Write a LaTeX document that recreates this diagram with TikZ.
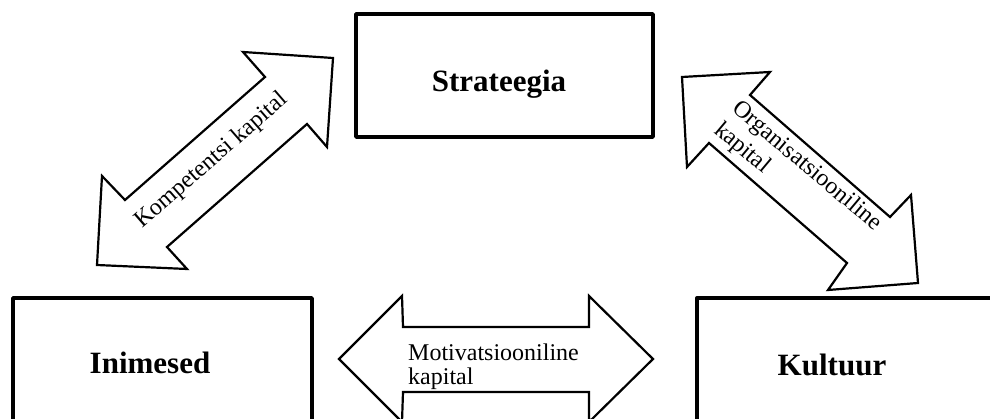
\documentclass[tikz,border=0pt]{standalone}
\usepackage{fontspec}
\setmainfont{Liberation Serif}
\begin{document}
\begin{tikzpicture}[x=1pt,y=-1pt,
  box/.style={draw=black,line width=3.4pt,line join=round},
  boxlabel/.style={font=\fontsize{31}{37}\selectfont\bfseries,inner sep=0pt},
  twoway/.style={draw=black,fill=white,line width=2.2pt,line join=miter},
  arrowlabel/.style={font=\fontsize{24}{24}\selectfont,inner sep=0pt,align=left}]
\useasboundingbox (0,0) rectangle (990,419);
\clip (0,0) rectangle (990,419);

% the three concepts
\draw[box] (356,14) rectangle (653,137);
\node[boxlabel,anchor=base] (strat) at (499,92) {Strateegia};

\draw[box] (13,298) rectangle (312,440);
\node[boxlabel,anchor=base] (inim) at (150,373) {Inimesed};

\draw[box] (697,298) rectangle (1000,440);
\node[boxlabel,anchor=base] (kult) at (832,375) {Kultuur};

% double arrow: people <-> strategy
\draw[twoway] (333,58) -- (243,52) -- (265,77) -- (125,200) -- (102,176)
  -- (97,265) -- (187,269) -- (167,247) -- (307,124) -- (327,147) -- cycle;
\node[arrowlabel,anchor=base west,rotate=41] (komp) at (142,229) {Kompetentsi kapital};

% double arrow: strategy <-> culture (anchor is the baseline of the last line)
\draw[twoway] (682,77) -- (770,72) -- (750,95) -- (890,217) -- (911,195)
  -- (918,283) -- (828,290) -- (847,263) -- (709,143) -- (687,167) -- cycle;
\node[arrowlabel,anchor=base west,rotate=-40,font=\fontsize{24}{28}\selectfont] (org) at (713,132)
  {Organisatsiooniline\\kapital};

% double arrow: people <-> culture
\draw[twoway] (339,359) -- (402,296) -- (403,327) -- (589,327) -- (589,296)
  -- (653,359) -- (589,422) -- (589,392) -- (403,392) -- (402,422) -- cycle;
\node[arrowlabel,anchor=base west] (motiv) at (408,384) {Motivatsiooniline\\kapital};
\end{tikzpicture}
\end{document}
